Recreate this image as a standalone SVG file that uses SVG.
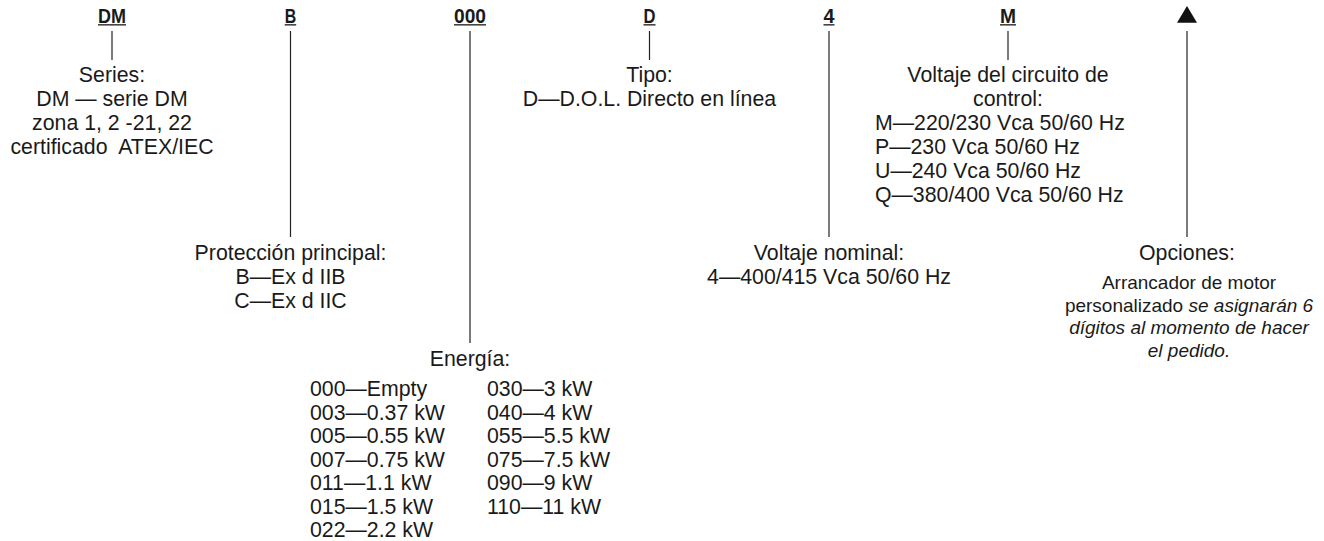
<svg xmlns="http://www.w3.org/2000/svg" width="1324" height="541" viewBox="0 0 1324 541">
<style>
  .code { font-family: "Liberation Sans Narrow", "Liberation Sans", Arial, sans-serif; font-weight: bold; font-size: 19.5px; fill: #1a1a1a; text-anchor: middle; }
  .ul { fill: #1a1a1a; }
  .t { font-family: "Liberation Sans", Arial, Helvetica, sans-serif; font-size: 21.3px; fill: #1a1a1a; text-anchor: middle; }
  .l { text-anchor: start; }
  .s { font-size: 19px; }
  .i { font-style: italic; }
  .conn line { stroke: #222; stroke-width: 1.2; }
</style>
<rect width="1324" height="541" fill="#ffffff"/>

<g id="connectors" class="conn">
  <line x1="112" y1="31" x2="112" y2="60"/>
  <line x1="290.5" y1="31" x2="290.5" y2="237"/>
  <line x1="470" y1="31" x2="470" y2="343"/>
  <line x1="649.5" y1="31" x2="649.5" y2="60"/>
  <line x1="829" y1="31" x2="829" y2="237"/>
  <line x1="1008" y1="31" x2="1008" y2="60"/>
  <line x1="1187" y1="31" x2="1187" y2="237"/>
</g>

<g id="code-DM">
  <text class="code" x="112" y="23" textLength="28" lengthAdjust="spacingAndGlyphs">DM</text>
  <rect class="ul" x="98" y="24.2" width="28" height="1.3"/>
</g>
<g id="code-B">
  <text class="code" x="290.5" y="23" textLength="11.5" lengthAdjust="spacingAndGlyphs">B</text>
  <rect class="ul" x="284.7" y="24.2" width="11.5" height="1.3"/>
</g>
<g id="code-000">
  <text class="code" x="470" y="23" textLength="32" lengthAdjust="spacingAndGlyphs">000</text>
  <rect class="ul" x="454" y="24.2" width="32" height="1.3"/>
</g>
<g id="code-D">
  <text class="code" x="649.5" y="23" textLength="12" lengthAdjust="spacingAndGlyphs">D</text>
  <rect class="ul" x="643.5" y="24.2" width="12" height="1.3"/>
</g>
<g id="code-4">
  <text class="code" x="829" y="23" textLength="11" lengthAdjust="spacingAndGlyphs">4</text>
  <rect class="ul" x="823.5" y="24.2" width="11" height="1.3"/>
</g>
<g id="code-M">
  <text class="code" x="1008" y="23" textLength="16" lengthAdjust="spacingAndGlyphs">M</text>
  <rect class="ul" x="1000" y="24.2" width="16" height="1.3"/>
</g>
<g id="code-options">
  <polygon points="1177,22.7 1197,22.7 1187,6" fill="#111"/>
</g>

<g id="series">
  <text class="t" x="112" y="82">Series:</text>
  <text class="t" x="112" y="106">DM — serie DM</text>
  <text class="t" x="112" y="130">zona 1, 2 -21, 22</text>
  <text class="t" x="112" y="154" xml:space="preserve">certificado  ATEX/IEC</text>
</g>

<g id="proteccion">
  <text class="t" x="290.5" y="260">Protección principal:</text>
  <text class="t" x="290.5" y="284">B—Ex d IIB</text>
  <text class="t" x="290.5" y="308">C—Ex d IIC</text>
</g>

<g id="energia">
  <text class="t" x="470" y="366">Energía:</text>
  <text class="t l" x="310" y="396">000—Empty</text>
  <text class="t l" x="310" y="419.5">003—0.37 kW</text>
  <text class="t l" x="310" y="443">005—0.55 kW</text>
  <text class="t l" x="310" y="466.5">007—0.75 kW</text>
  <text class="t l" x="310" y="490">011—1.1 kW</text>
  <text class="t l" x="310" y="513.5">015—1.5 kW</text>
  <text class="t l" x="310" y="537">022—2.2 kW</text>
  <text class="t l" x="487" y="396">030—3 kW</text>
  <text class="t l" x="487" y="419.5">040—4 kW</text>
  <text class="t l" x="487" y="443">055—5.5 kW</text>
  <text class="t l" x="487" y="466.5">075—7.5 kW</text>
  <text class="t l" x="487" y="490">090—9 kW</text>
  <text class="t l" x="487" y="513.5">110—11 kW</text>
</g>

<g id="tipo">
  <text class="t" x="649.5" y="82">Tipo:</text>
  <text class="t" x="649.5" y="106">D—D.O.L. Directo en línea</text>
</g>

<g id="voltaje-nominal">
  <text class="t" x="829" y="260">Voltaje nominal:</text>
  <text class="t" x="829" y="284">4—400/415 Vca 50/60 Hz</text>
</g>

<g id="voltaje-control">
  <text class="t" x="1008" y="82">Voltaje del circuito de</text>
  <text class="t" x="1008" y="106">control:</text>
  <text class="t l" x="875" y="130">M—220/230 Vca 50/60 Hz</text>
  <text class="t l" x="875" y="154">P—230 Vca 50/60 Hz</text>
  <text class="t l" x="875" y="178">U—240 Vca 50/60 Hz</text>
  <text class="t l" x="875" y="202">Q—380/400 Vca 50/60 Hz</text>
</g>

<g id="opciones">
  <text class="t" x="1187" y="260">Opciones:</text>
  <text class="t s" x="1189" y="289">Arrancador de motor</text>
  <text class="t s" x="1189" y="311.5">personalizado <tspan class="i">se asignarán 6</tspan></text>
  <text class="t s i" x="1189" y="334">dígitos al momento de hacer</text>
  <text class="t s i" x="1189" y="356.5">el pedido.</text>
</g>
</svg>
